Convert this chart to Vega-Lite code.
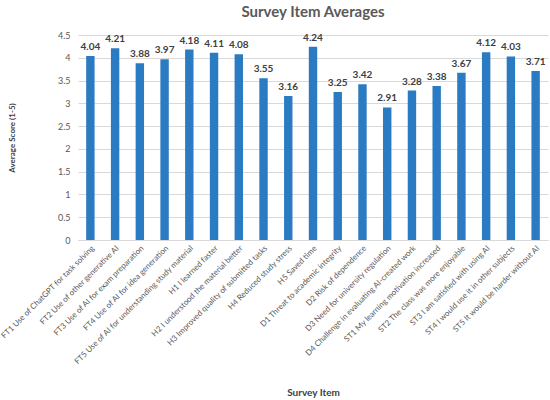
{
  "$schema": "https://vega.github.io/schema/vega-lite/v6.json",
  "autosize": {"type": "none"},
  "padding": {"left": 78, "top": 35, "right": 2, "bottom": 160},
  "width": 470,
  "height": 205,
  "title": {
    "text": "Survey Item Averages",
    "fontSize": 15,
    "font": "Lato",
    "fontWeight": "bold",
    "color": "#595959",
    "offset": 11
  },
  "config": {
    "view": {"stroke": null},
    "font": "Lato"
  },
  "data": {
    "values": [
      {"item": "FT1 Use of ChatGPT for task solving", "score": 4.04},
      {"item": "FT2 Use of other generative AI", "score": 4.21},
      {"item": "FT3 Use of AI for exam preparation", "score": 3.88},
      {"item": "FT4 Use of AI for idea generation", "score": 3.97},
      {"item": "FT5 Use of AI for understanding study material", "score": 4.18},
      {"item": "H1 I learned faster", "score": 4.11},
      {"item": "H2 I understood the material better", "score": 4.08},
      {"item": "H3 Improved quality of submitted tasks", "score": 3.55},
      {"item": "H4 Reduced study stress", "score": 3.16},
      {"item": "H5 Saved time", "score": 4.24},
      {"item": "D1 Threat to academic integrity", "score": 3.25},
      {"item": "D2 Risk of dependence", "score": 3.42},
      {"item": "D3 Need for university regulation", "score": 2.91},
      {"item": "D4 Challenge in evaluating AI-created work", "score": 3.28},
      {"item": "ST1 My learning motivation increased", "score": 3.38},
      {"item": "ST2 The class was more enjoyable", "score": 3.67},
      {"item": "ST3 I am satisfied with using AI", "score": 4.12},
      {"item": "ST4 I would use it in other subjects", "score": 4.03},
      {"item": "ST5 It would be harder without AI", "score": 3.71}
    ]
  },
  "encoding": {
    "x": {
      "field": "item",
      "type": "nominal",
      "sort": null,
      "scale": {"paddingInner": 0.66, "paddingOuter": 0.33},
      "axis": {
        "title": "Survey Item",
        "titleFontSize": 10,
        "titleFontWeight": "bold",
        "titleColor": "#404040",
        "titleY": 152,
        "titleBaseline": "middle",
        "labelAngle": -45,
        "labelFontSize": 8,
        "labelColor": "#595959",
        "labelLimit": 250,
        "labelPadding": 4,
        "ticks": false,
        "domainColor": "#D9D9D9"
      }
    },
    "y": {
      "field": "score",
      "type": "quantitative",
      "scale": {"domain": [0, 4.5], "nice": false},
      "axis": {
        "title": "Average Score (1-5)",
        "titleFontSize": 8,
        "titleFontWeight": "bold",
        "titleColor": "#404040",
        "titleX": -62,
        "values": [0, 0.5, 1, 1.5, 2, 2.5, 3, 3.5, 4, 4.5],
        "format": "~g",
        "labelFontSize": 9,
        "labelColor": "#595959",
        "labelPadding": 8,
        "domain": false,
        "ticks": false,
        "gridColor": "#D9D9D9"
      }
    }
  },
  "layer": [
    {"mark": {"type": "bar", "color": "#2B7BC2"}},
    {
      "mark": {
        "type": "text",
        "dy": -9,
        "fontSize": 10,
        "fontWeight": "bold",
        "color": "#404040"
      },
      "encoding": {
        "text": {"field": "score", "type": "quantitative", "format": ".2f"}
      }
    }
  ]
}
